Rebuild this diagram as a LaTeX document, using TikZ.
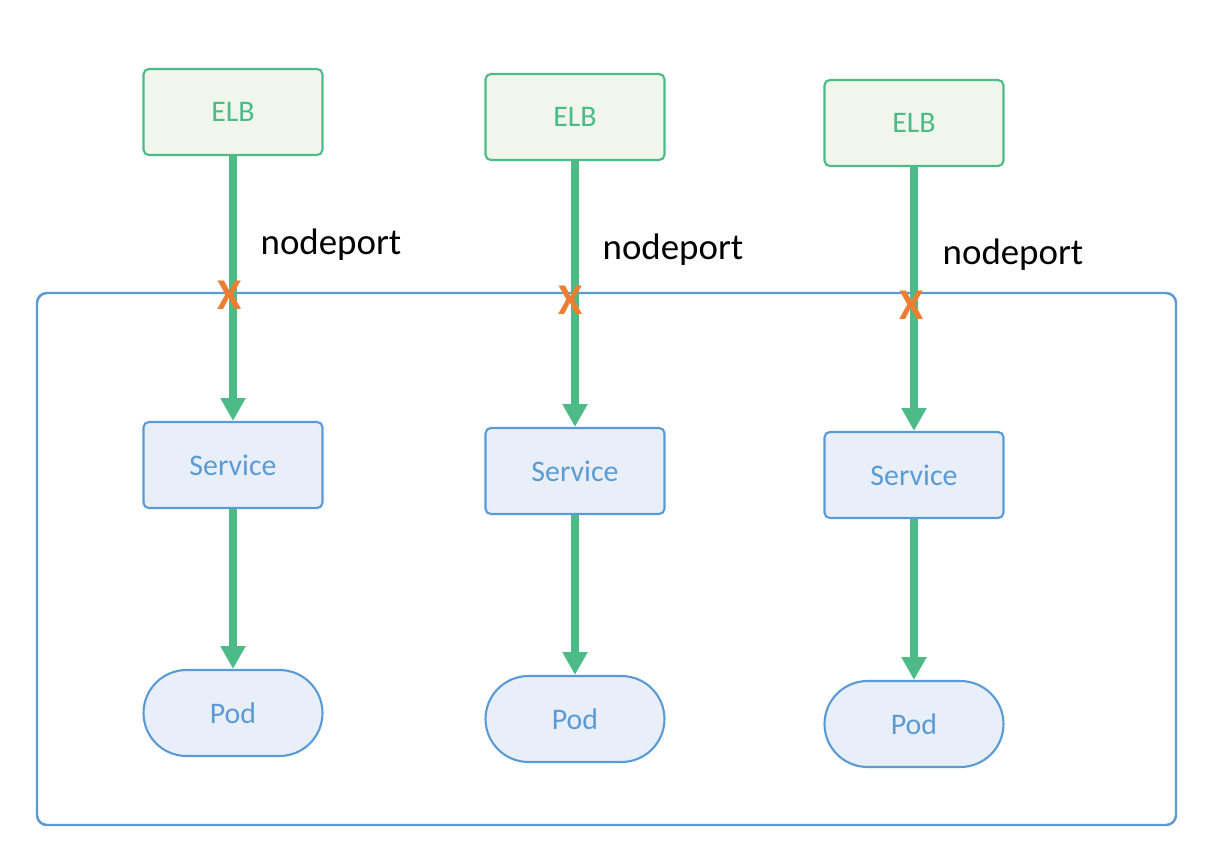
\documentclass[tikz,border=0pt]{standalone}
\usepackage{fontspec}
\setmainfont{Carlito}
\usetikzlibrary{arrows.meta,positioning}
\usepackage{xcolor}

\definecolor{elbgreen}{HTML}{4CBB88}
\definecolor{elbfill}{HTML}{F0F6EC}
\definecolor{svcblue}{HTML}{5B9BD5}
\definecolor{svcfill}{HTML}{E9EFF9}
\definecolor{xorange}{HTML}{ED7D31}

\tikzset{
  elb/.style={draw=elbgreen, line width=1.2pt, fill=elbfill, rounded corners=3pt,
    minimum width=3.58cm, minimum height=1.72cm, text=elbgreen,
    font=\fontsize{17}{19}\selectfont},
  svc/.style={draw=svcblue, line width=1.2pt, fill=svcfill, rounded corners=3pt,
    minimum width=3.58cm, minimum height=1.72cm, text=svcblue,
    font=\fontsize{17}{19}\selectfont},
  pod/.style={svc, rounded corners=0.86cm},
  flow/.style={line width=4.5pt, draw=elbgreen, -{Triangle[width=13.5pt,length=13pt]}},
  portlabel/.style={font=\fontsize{21}{23}\selectfont, text=black},
  block/.style={font=\bfseries\fontsize{25}{27}\selectfont, text=xorange, inner sep=0pt}
}

\begin{document}
\begin{tikzpicture}[x=0.02cm, y=-0.02cm]
\useasboundingbox (0,0) rectangle (1214,862);

% cluster frame
\draw[svcblue, line width=1.4pt, rounded corners=0.2cm] (37,293) rectangle (1176,825);

% top load balancers
\node[elb] (elb1) at (233,112) {ELB};
\node[elb] (elb2) at (575,117) {ELB};
\node[elb] (elb3) at (914,123) {ELB};

% services
\node[svc] (svc1) at (233,465) {Service};
\node[svc] (svc2) at (575,471) {Service};
\node[svc] (svc3) at (914,475) {Service};

% pods
\node[pod] (pod1) at (233,713) {Pod};
\node[pod] (pod2) at (575,719) {Pod};
\node[pod] (pod3) at (914,724) {Pod};

% traffic
\draw[flow] (elb1.south) -- (svc1.north);
\draw[flow] (elb2.south) -- (svc2.north);
\draw[flow] (elb3.south) -- (svc3.north);
\draw[flow] (svc1.south) -- (pod1.north);
\draw[flow] (svc2.south) -- (pod2.north);
\draw[flow] (svc3.south) -- (pod3.north);

% nodeport labels
\node[portlabel] (np1) at (331,245) {nodeport};
\node[portlabel] (np2) at (673,250) {nodeport};
\node[portlabel] (np3) at (1013,255) {nodeport};

% blocked crossings
\node[block] (x1) at (230,295) {X};
\node[block] (x2) at (571,300) {X};
\node[block] (x3) at (912,305) {X};
\end{tikzpicture}
\end{document}
